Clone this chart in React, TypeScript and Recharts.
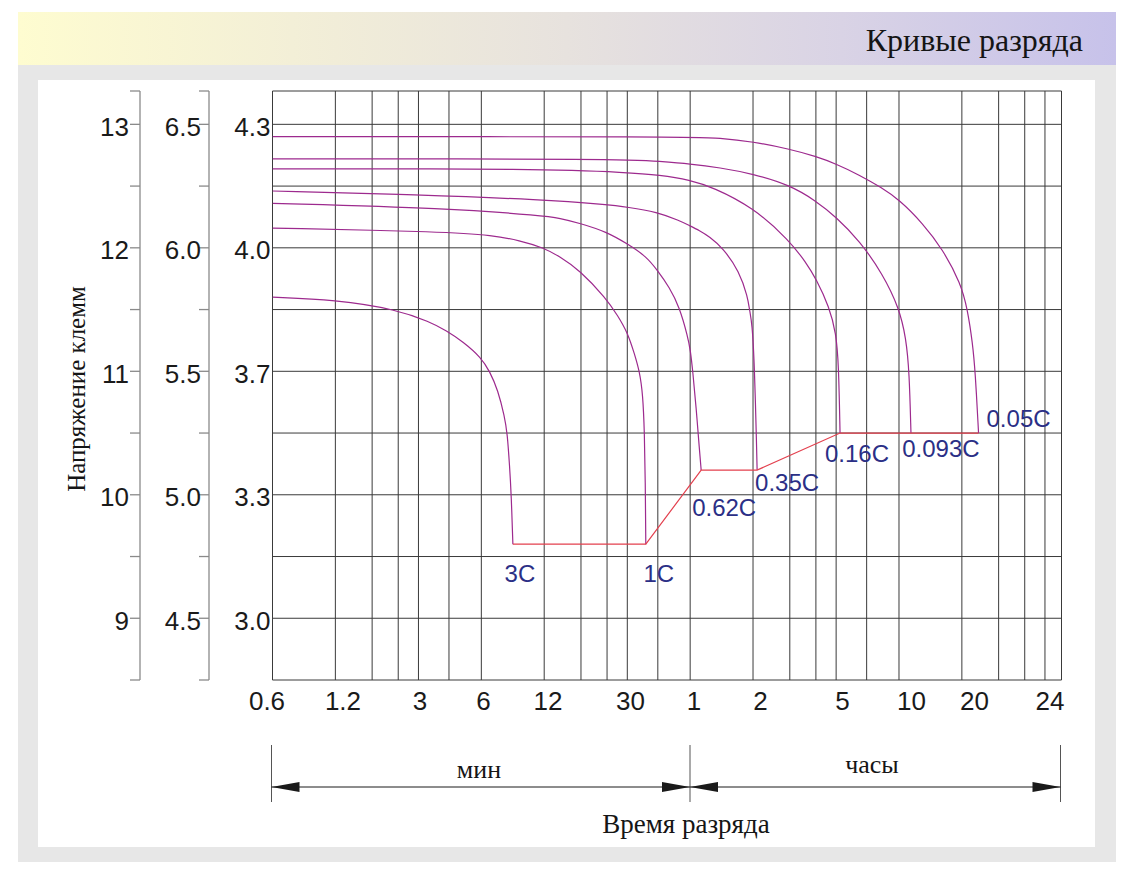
import React from 'react';
import { LineChart, Line, XAxis, YAxis, CartesianGrid, LabelList } from 'recharts';

// discharge time in hours (log axis), terminal voltage of the 12 V block
const H_3C = [0.01, 0.0199, 0.0396, 0.0566, 0.068, 0.0817, 0.1, 0.1096, 0.12, 0.1293, 0.1331, 0.1366, 0.1391, 0.1416];
const V_3C = [11.6, 11.58, 11.5, 11.4, 11.33, 11.24, 11.11, 11.0, 10.85, 10.63, 10.5, 10.23, 10.0, 9.6];

const H_1C = [0.01, 0.069, 0.1132, 0.1525, 0.1987, 0.2369, 0.2953, 0.3963, 0.4503, 0.5028, 0.5413, 0.572, 0.5931, 0.6043, 0.6097, 0.6131];
const V_1C = [12.16, 12.13, 12.1, 12.06, 12.0, 11.93, 11.82, 11.59, 11.45, 11.31, 11.14, 11.0, 10.82, 10.5, 10.12, 9.6];

const H_062C = [0.01, 0.069, 0.1987, 0.2369, 0.2953, 0.3976, 0.5028, 0.616, 0.695, 0.796, 0.8889, 0.974, 1.003, 1.029, 1.068, 1.108, 1.129];
const V_062C = [12.36, 12.32, 12.26, 12.24, 12.2, 12.13, 12.03, 11.93, 11.82, 11.68, 11.52, 11.28, 11.17, 11.0, 10.71, 10.36, 10.2];

const H_035C = [0.01, 0.0496, 0.1987, 0.3963, 0.501, 0.695, 0.8889, 0.9923, 1.108, 1.237, 1.432, 1.721, 1.886, 1.922, 1.98, 2.031, 2.083, 2.092];
const V_035C = [12.46, 12.43, 12.39, 12.35, 12.33, 12.29, 12.22, 12.18, 12.14, 12.09, 12.0, 11.81, 11.6, 11.5, 11.39, 11.06, 10.36, 10.2];

const H_016C = [0.01, 0.1987, 0.5028, 0.713, 1.0, 1.283, 1.993, 2.987, 3.589, 4.007, 4.64, 4.995, 5.14, 5.22];
const V_016C = [12.64, 12.64, 12.61, 12.59, 12.55, 12.49, 12.33, 12.06, 11.88, 11.75, 11.52, 11.31, 11.06, 10.5];

const H_0093C = [0.01, 0.5028, 0.713, 1.0, 1.381, 1.993, 2.987, 4.007, 4.995, 6.457, 8.348, 10.03, 10.8, 11.2, 11.41];
const V_0093C = [12.72, 12.72, 12.7, 12.68, 12.65, 12.6, 12.51, 12.38, 12.25, 12.06, 11.79, 11.51, 11.27, 11.0, 10.5];

const H_005C = [0.01, 1.0, 1.381, 1.993, 2.987, 4.007, 4.995, 6.457, 8.203, 10.03, 12.97, 16.17, 19.8, 21.29, 22.5, 23.18, 24.04];
const V_005C = [12.9, 12.9, 12.89, 12.86, 12.8, 12.74, 12.68, 12.59, 12.49, 12.39, 12.2, 11.99, 11.71, 11.5, 11.23, 11.0, 10.5];

// end-of-discharge line, one point per rate
const RATES = ['3C', '1C', '0.62C', '0.35C', '0.16C', '0.093C', '0.05C'];
const H_END = [0.1416, 0.6131, 1.129, 2.092, 5.22, 11.41, 24.04];
const V_END = [9.6, 9.6, 10.2, 10.2, 10.5, 10.5, 10.5];

// axes
const X_GRID = [0.01, 0.02, 0.03, 0.04, 0.05, 0.07, 0.1, 0.2, 0.3, 0.4, 0.5, 0.7, 1, 2, 3, 4, 5, 7, 10, 20, 30, 40, 50, 60];
const X_LABEL_AT = [0.01, 0.02, 0.05, 0.1, 0.2, 0.5, 1, 2, 5, 10, 20, 60];
const X_LABELS = ['0.6', '1.2', '3', '6', '12', '30', '1', '2', '5', '10', '20', '24'];

const Y_GRID = [8.5, 9, 9.5, 10, 10.5, 11, 11.5, 12, 12.5, 13, 13.27];
const Y_LABEL_AT = [13, 12, 11, 10, 9];
const Y_LABELS_12V = ['13', '12', '11', '10', '9'];
const Y_LABELS_6V = ['6.5', '6.0', '5.5', '5.0', '4.5'];
const Y_LABELS_CELL = ['4.3', '4.0', '3.7', '3.3', '3.0'];

const toPoints = (h: number[], v: number[]) => h.map((x, i) => ({ h: x, v: v[i] }));

const CURVES = [
  { name: '3C', data: toPoints(H_3C, V_3C) },
  { name: '1C', data: toPoints(H_1C, V_1C) },
  { name: '0.62C', data: toPoints(H_062C, V_062C) },
  { name: '0.35C', data: toPoints(H_035C, V_035C) },
  { name: '0.16C', data: toPoints(H_016C, V_016C) },
  { name: '0.093C', data: toPoints(H_0093C, V_0093C) },
  { name: '0.05C', data: toPoints(H_005C, V_005C) },
];
const END_LINE = H_END.map((h, i) => ({ h, v: V_END[i], rate: RATES[i] }));

const CURVE = '#9d2a8e';
const CUTOFF = '#e3404e';
const INK = '#2b2f86';
const AXIS_GRAY = '#8a8a8a';
const SANS = "'Liberation Sans', Arial, sans-serif";
const SERIF = "'Liberation Serif', 'Times New Roman', serif";

// label placement tweaks (px), same order as the tick / rate arrays
const X_NUDGE = [-5.5, 7.6, 1.5, 2.2, 3.8, 3.2, 3.8, 7.5, 6.4, 12.5, 12.7, -11.5];
const LABEL_NUDGE = [[7, 29], [13, 29], [23, 37.5], [30, 12.5], [17, 20], [30, 15], [40, -15]];

const renderXTick = (props: any) => {
  const { x, y, payload } = props;
  const i = X_LABEL_AT.indexOf(payload.value);
  if (i < 0) return <g />;
  return (
    <text x={x + X_NUDGE[i]} y={y + 30} textAnchor="middle" fontFamily={SANS} fontSize={26} fill="#1a1a1a">
      {X_LABELS[i]}
    </text>
  );
};

const yTick = (labels: string[], dx: number) => (props: any) => {
  const { x, y, payload } = props;
  const i = Y_LABEL_AT.indexOf(payload.value);
  if (i < 0) return <g />;
  return (
    <text x={x + dx} y={y + 2} dy="0.36em" textAnchor="end" fontFamily={SANS} fontSize={26} fill="#1a1a1a">
      {labels[i]}
    </text>
  );
};

const RateLabel = (props: any) => {
  const { index, value } = props;
  const x = props.x ?? props.viewBox?.x;
  const y = props.y ?? props.viewBox?.y;
  const [dx, dy] = LABEL_NUDGE[index] || [0, 0];
  return (
    <text x={x + dx} y={y + dy} dy="0.36em" textAnchor="middle" fontFamily={SANS} fontSize={24} fill={INK}>
      {value}
    </text>
  );
};

function Bracket() {
  const L = 271.5, M = 690, R = 1060.5, Y = 787;
  const head = (tip: number, dir: number) =>
    `${tip},${Y} ${tip + dir * 28},${Y - 5} ${tip + dir * 28},${Y + 5}`;
  return (
    <g>
      {[L, M, R].map(x => (
        <line key={x} x1={x} y1={745} x2={x} y2={802} stroke="#555" strokeWidth={1} />
      ))}
      <line x1={L} y1={Y} x2={R} y2={Y} stroke="#1a1a1a" strokeWidth={1} />
      <polygon points={head(L, 1)} fill="#1a1a1a" />
      <polygon points={head(M, -1)} fill="#1a1a1a" />
      <polygon points={head(M, 1)} fill="#1a1a1a" />
      <polygon points={head(R, -1)} fill="#1a1a1a" />
    </g>
  );
}

// left axes are laid out by id order: a (next to the plot), b, c
const yAxisCommon = {
  type: 'number' as const,
  domain: [8.5, 13.27],
  ticks: Y_GRID,
  interval: 0,
  allowDataOverflow: true,
};

export default function App() {
  return (
    <div style={{ position: 'absolute', left: 0, top: 0, width: 1138, height: 882, background: '#fff', overflow: 'hidden' }}>
      <div style={{ position: 'absolute', left: 18, top: 12, width: 1098, height: 53,
        background: 'linear-gradient(90deg, #fefcd0 0%, #f3efd7 25%, #e7e2de 50%, #d9d3e5 75%, #c7c2ea 100%)' }} />
      <div style={{ position: 'absolute', left: 18, top: 65, width: 1098, height: 797, background: '#e7e7e7' }} />
      <div style={{ position: 'absolute', left: 38, top: 80, width: 1057, height: 767, background: '#fff' }} />

      <div style={{ position: 'absolute', left: 0, top: 0 }}>
        <LineChart width={1138} height={882} margin={{ top: 91, right: 76.5, bottom: 162, left: 40 }}>
          <CartesianGrid yAxisId="a_cell" stroke="#3a3a3a" strokeWidth={1} />
          <XAxis
            dataKey="h"
            type="number"
            scale="log"
            domain={[0.01, 60]}
            ticks={X_GRID}
            interval={0}
            allowDataOverflow
            axisLine={false}
            tickLine={false}
            tickSize={0}
            tickMargin={0}
            height={40}
            tick={renderXTick}
          />
          <YAxis
            yAxisId="a_cell"
            {...yAxisCommon}
            width={63.5}
            axisLine={false}
            tickLine={false}
            tickSize={0}
            tickMargin={2}
            tick={yTick(Y_LABELS_CELL, 0)}
          />
          <YAxis
            yAxisId="b_v6"
            {...yAxisCommon}
            width={69}
            axisLine={{ stroke: AXIS_GRAY, strokeWidth: 1.3 }}
            tickLine={{ stroke: AXIS_GRAY, strokeWidth: 1.3 }}
            tickSize={10}
            tickMargin={0}
            tick={yTick(Y_LABELS_6V, 2)}
          />
          <YAxis
            yAxisId="c_v12"
            {...yAxisCommon}
            width={100}
            axisLine={{ stroke: AXIS_GRAY, strokeWidth: 1.3 }}
            tickLine={{ stroke: AXIS_GRAY, strokeWidth: 1.3 }}
            tickSize={10}
            tickMargin={0}
            tick={yTick(Y_LABELS_12V, -1)}
          />
          {CURVES.map(c => (
            <Line
              key={c.name}
              yAxisId="a_cell"
              data={c.data}
              dataKey="v"
              type="basis"
              stroke={CURVE}
              strokeWidth={1.2}
              dot={false}
              activeDot={false}
              isAnimationActive={false}
            />
          ))}
          <Line
            yAxisId="a_cell"
            data={END_LINE}
            dataKey="v"
            type="linear"
            stroke={CUTOFF}
            strokeWidth={1.2}
            dot={false}
            activeDot={false}
            isAnimationActive={false}
          >
            <LabelList dataKey="rate" content={RateLabel} />
          </Line>
        </LineChart>
      </div>

      <svg width={1138} height={882} style={{ position: 'absolute', left: 0, top: 0, pointerEvents: 'none' }}>
        <text x={1083} y={51} textAnchor="end" fontFamily={SERIF} fontSize={32} fill="#151515">Кривые разряда</text>
        <text transform="translate(85,389) rotate(-90)" textAnchor="middle" fontFamily={SERIF} fontSize={25} fill="#151515">
          Напряжение клемм
        </text>
        <Bracket />
        <text x={479} y={778} textAnchor="middle" fontFamily={SERIF} fontSize={26} fill="#151515">мин</text>
        <text x={872} y={773} textAnchor="middle" fontFamily={SERIF} fontSize={26} fill="#151515">часы</text>
        <text x={686} y={833} textAnchor="middle" fontFamily={SERIF} fontSize={27} fill="#151515">Время разряда</text>
      </svg>
    </div>
  );
}
